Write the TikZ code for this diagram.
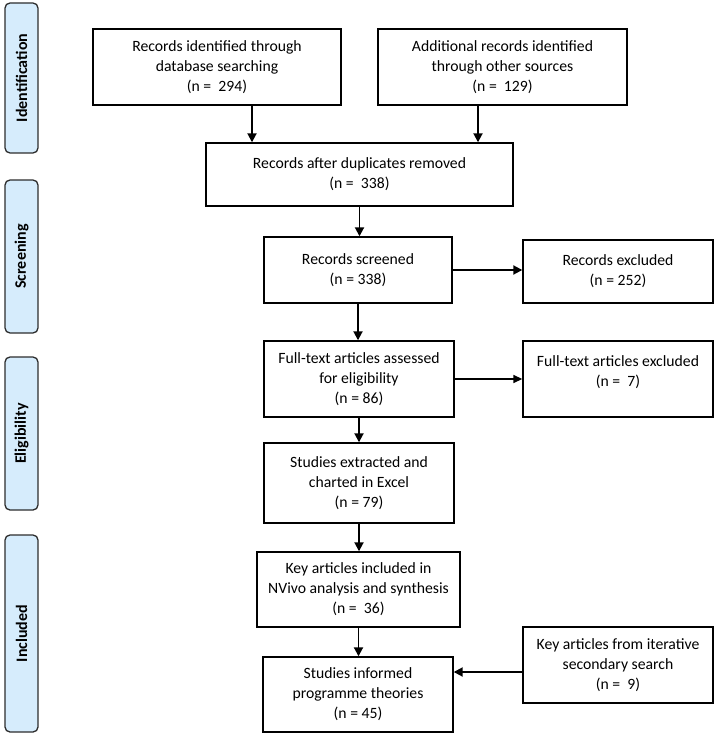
\documentclass[tikz,border=0pt]{standalone}
\usepackage{fontspec}
\setmainfont{Carlito}
\usetikzlibrary{arrows.meta,calc}
\definecolor{barfill}{RGB}{214,236,252}
\definecolor{barline}{RGB}{45,45,45}
\tikzset{
  box/.style={draw=black, line width=1.4pt, fill=white, align=center, inner sep=0pt,
    font=\fontsize{15.7}{20}\selectfont},
  sidebar/.style={draw=barline, line width=1.3pt, fill=barfill, rounded corners=5pt,
    rotate=90, font=\bfseries\fontsize{16}{19}\selectfont, inner sep=0pt},
  arr/.style={line width=1.9pt, -{Triangle[length=9pt,width=9pt]}},
  thinarr/.style={line width=1.5pt, -{Triangle[length=9pt,width=8pt]}}
}
\begin{document}
\begin{tikzpicture}[x=1pt,y=-1pt]
\useasboundingbox (0,0) rectangle (718,738);
% side bars
\node[sidebar, minimum width=150, minimum height=33] (s1) at (21.5,78) {Identification};
\node[sidebar, minimum width=153, minimum height=33] (s2) at (21.5,256.5) {Screening};
\node[sidebar, minimum width=153, minimum height=33] (s3) at (21.5,433.5) {Eligibility};
\node[sidebar, minimum width=197, minimum height=33] (s4) at (21.5,633.5) {Included};
% boxes
\node[box, minimum width=248, minimum height=76] (A) at (217,67) {Records identified through\\database searching\\(n =~ 294)};
\node[box, minimum width=249, minimum height=76] (B) at (502.5,67) {Additional records identified\\through other sources\\(n =~ 129)};
\node[box, minimum width=307, minimum height=63] (C) at (359.5,174.5) {Records after duplicates removed\\(n =~ 338)};
\node[box, minimum width=188, minimum height=66] (D) at (358,270) {Records screened\\(n = 338)};
\node[box, minimum width=190, minimum height=63] (E) at (618,271.5) {Records excluded\\(n = 252)};
\node[box, minimum width=190, minimum height=76] (F) at (359,379) {Full-text articles assessed\\for eligibility\\(n = 86)};
\node[box, minimum width=190, minimum height=76] (G) at (618,379) {};
\node[align=center, font=\fontsize{15.7}{20}\selectfont, inner sep=0pt] (Gt) at (618,372) {Full-text articles excluded\\(n =~ 7)};
\node[box, minimum width=190, minimum height=80] (H) at (359,483) {Studies extracted and\\charted in Excel\\(n = 79)};
\node[box, minimum width=203, minimum height=75] (I) at (358.5,589.5) {Key articles included in\\NVivo analysis and synthesis\\(n =~ 36)};
\node[box, minimum width=190, minimum height=75] (J) at (358,694.5) {Studies informed\\programme theories\\(n = 45)};
\node[box, minimum width=190, minimum height=76] (K) at (618,665) {Key articles from iterative\\secondary search\\(n =~ 9)};
% arrows
\draw[arr] ([xshift=35pt]A.south) -- ([xshift=35pt]A.south |- C.north);
\draw[arr] ([xshift=-24.5pt]B.south) -- ([xshift=-24.5pt]B.south |- C.north);
\draw[arr] (C.south) -- (C.south |- D.north);
\draw[arr] (D.east) -- (D.east -| E.west);
\draw[arr] (D.south) -- (D.south |- F.north);
\draw[thinarr] (F.east) -- (F.east -| G.west);
\draw[arr] (F.south) -- (F.south |- H.north);
\draw[arr] (H.south) -- (H.south |- I.north);
\draw[arr] (I.south) -- (I.south |- J.north);
\draw[arr] ([yshift=-7pt]K.west) -- ([yshift=-7pt]K.west -| J.east);
\end{tikzpicture}
\end{document}
